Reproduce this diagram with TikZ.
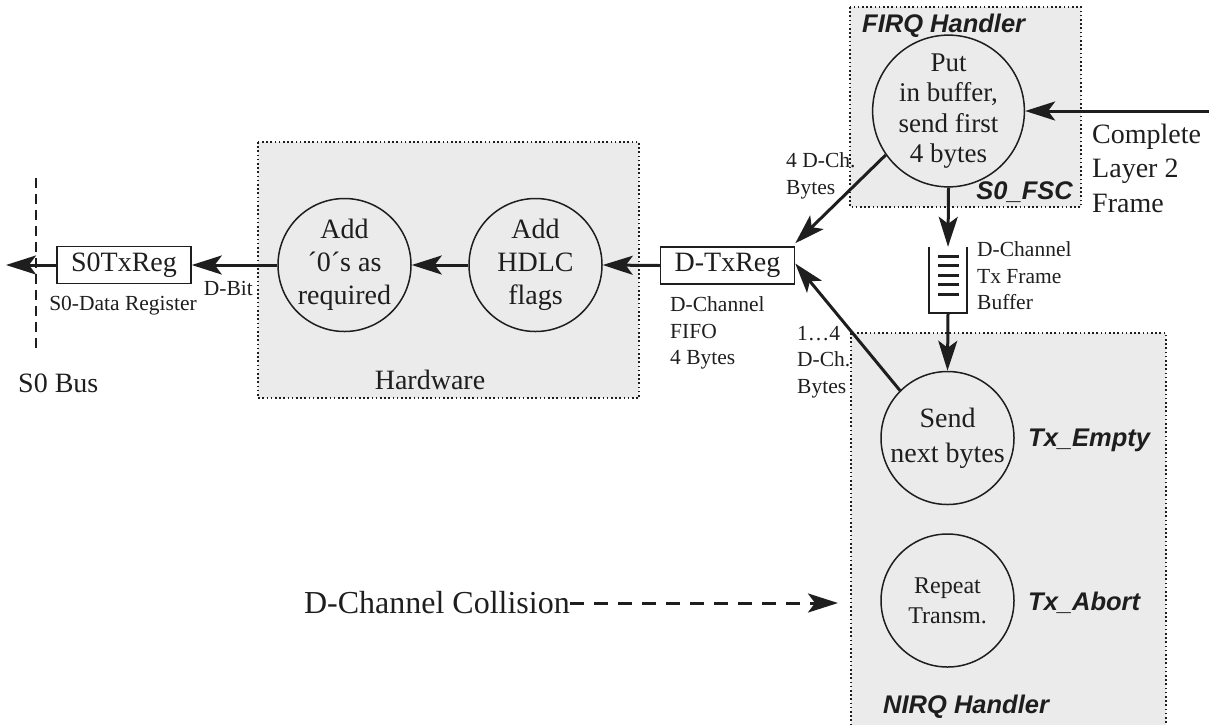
\documentclass[tikz,border=0pt]{standalone}
\usepackage{fontspec}
\setmainfont{Liberation Serif}
\newfontfamily\hsans{Liberation Sans}
\usetikzlibrary{arrows.meta}
\definecolor{boxgray}{HTML}{EBEBEB}
\definecolor{ink}{HTML}{1E1E1E}
\tikzset{
  region/.style={draw=ink, fill=boxgray, line width=1.6pt, dash pattern=on 1.6pt off 2.6pt},
  proc/.style={draw=ink, circle, line width=1.5pt, minimum size=133pt, inner sep=0pt, align=center, text=ink},
  reg/.style={draw=ink, rectangle, line width=1.5pt, minimum width=134pt, minimum height=37pt, inner sep=0pt, text=ink, font=\fontsize{28}{30}\selectfont},
  flow/.style={draw=ink, line width=3pt, -{Stealth[length=30pt, width=19pt, inset=7pt]}},
  small/.style={align=left, inner sep=0pt, text=ink, font=\fontsize{21.5}{26.5}\selectfont},
  big/.style={align=left, inner sep=0pt, text=ink, font=\fontsize{28}{34.5}\selectfont},
  tag/.style={inner sep=0pt, text=ink, font=\hsans\bfseries\itshape\fontsize{25.5}{28}\selectfont},
}
\begin{document}
\begin{tikzpicture}[x=1pt, y=-1pt]
\useasboundingbox (0,0) rectangle (1209,724);
% regions
\path[region] (258,142) rectangle (639,398);
\path[region] (850,7) rectangle (1081,207);
\path[region] (851,333) rectangle (1166,740);
% S0 bus line
\draw[ink, line width=2pt, dash pattern=on 10pt off 6pt] (36,178) -- (36,352);
\node[big, anchor=west] (bus) at (18,383) {S0 Bus};
% registers
\node[reg] (s0reg) at (124,265) {S0TxReg};
\node[reg] (dtx) at (727.5,265.5) {D-TxReg};
\node[small, anchor=north] (s0lab) at (123,296) {S0-Data Register};
\node[small, anchor=east] (dbit) at (253,288) {D-Bit};
\node[small, anchor=west] (fifo) at (670,333) {D-Channel\\FIFO\\4 Bytes};
% hardware circles
\node[proc, font=\fontsize{28}{33}\selectfont] (add0) at (344.5,265) {Add\\´0´s as\\required};
\node[proc, font=\fontsize{28}{33}\selectfont] (hdlc) at (535.5,265) {Add\\HDLC\\flags};
\node[big, anchor=center] (hw) at (430,380) {Hardware};
% FIRQ
\node[tag, anchor=west] (firq) at (862,26) {FIRQ Handler};
\node[tag, anchor=east] (fsc) at (1073,192) {S0\_FSC};
\node[proc, font=\fontsize{27}{30.5}\selectfont] (put) at (948.5,111) {Put\\in buffer,\\send first\\4 bytes};
\node[big, anchor=west] (cpl) at (1092,168) {Complete\\Layer 2\\Frame};
\coordinate (cplin) at (1209,111);
% buffer
\node[minimum width=38pt, minimum height=66pt, inner sep=0pt] (buf) at (948,280) {};
\draw[ink, line width=1.5pt] (buf.north west) -- (buf.south west) -- (buf.south east) -- (buf.north east);
\foreach \yy in {256,265.5,275,284.5,294} {
  \draw[ink, line width=3pt] (938,\yy) -- (959,\yy);
}
\node[small, anchor=west] (buflab) at (977,276) {D-Channel\\Tx Frame\\Buffer};
% NIRQ
\node[proc, font=\fontsize{28}{35}\selectfont] (send) at (947.5,438) {Send\\next bytes};
\node[proc, font=\fontsize{24}{30}\selectfont] (rep) at (947.5,600.5) {Repeat\\Transm.};
\node[tag, anchor=west] (txe) at (1028,440) {Tx\_Empty};
\node[tag, anchor=west] (txa) at (1028,603) {Tx\_Abort};
\node[tag, anchor=west] (nirq) at (883,707) {NIRQ Handler};
\node[small, anchor=west] (b4) at (786,176) {4 D-Ch.\\Bytes};
\node[small, anchor=west] (b14) at (797,362) {1…4\\D-Ch.\\Bytes};
% collision
\node[big, anchor=east, font=\fontsize{32}{34}\selectfont] (coll) at (570,603) {D-Channel Collision};
\coordinate (collend) at (838,603);
\coordinate (busout) at (6,265);
% connectors
\draw[flow] (s0reg.west) -- (busout);
\draw[flow] (add0.west) -- (s0reg.east);
\draw[flow] (hdlc.west) -- (add0.east);
\draw[flow] (dtx.west) -- (hdlc.east);
\draw[flow] (put.215) -- ([yshift=3pt]dtx.north east);
\draw[flow] (send.135) -- ([yshift=2pt]dtx.east);
\draw[flow] (cplin) -- (put.east);
\draw[flow] (put.south) -- (buf.north);
\draw[flow] (buf.south) -- (send.north);
\draw[flow, dash pattern=on 14pt off 10pt] (coll.east) -- (collend);
\end{tikzpicture}
\end{document}
